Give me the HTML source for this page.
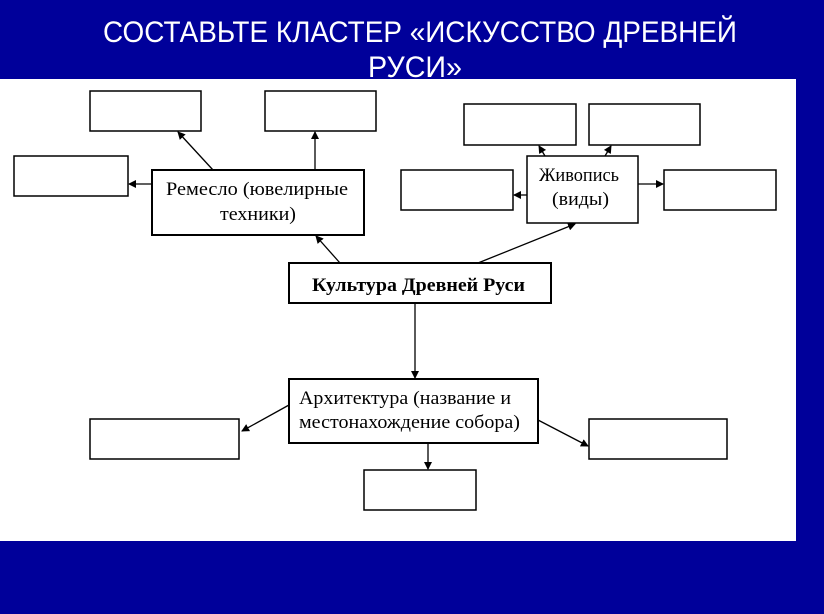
<!DOCTYPE html>
<html><head><meta charset="utf-8"><style>
html,body{margin:0;padding:0;background:#00009a;}
svg{display:block}
</style></head><body>
<svg width="824" height="614" viewBox="0 0 824 614" xmlns="http://www.w3.org/2000/svg">
<defs><marker id="a" markerWidth="8" markerHeight="8" refX="7" refY="4" orient="auto" markerUnits="userSpaceOnUse"><path d="M0,0 L8,4 L0,8 z" fill="#000"/></marker></defs>
<rect width="824" height="614" fill="#00009a"/>
<g font-family="Liberation Sans, sans-serif" font-size="30" fill="#fff">
<text x="103" y="42" textLength="634" lengthAdjust="spacingAndGlyphs">СОСТАВЬТЕ КЛАСТЕР «ИСКУССТВО ДРЕВНЕЙ</text>
<text x="368" y="77" textLength="94" lengthAdjust="spacingAndGlyphs">РУСИ»</text>
</g>
<rect x="0" y="79" width="796" height="462" fill="#fff"/>
<g fill="#fff" stroke="#000" stroke-width="1.5">
<rect x="90" y="91" width="111" height="40"/>
<rect x="265" y="91" width="111" height="40"/>
<rect x="14" y="156" width="114" height="40"/>
<rect x="152" y="170" width="212" height="65" stroke-width="2"/>
<rect x="464" y="104" width="112" height="41"/>
<rect x="589" y="104" width="111" height="41"/>
<rect x="401" y="170" width="112" height="40"/>
<rect x="527" y="156" width="111" height="67"/>
<rect x="664" y="170" width="112" height="40"/>
<rect x="289" y="263" width="262" height="40" stroke-width="2"/>
<rect x="289" y="379" width="249" height="64" stroke-width="2"/>
<rect x="90" y="419" width="149" height="40"/>
<rect x="589" y="419" width="138" height="40"/>
<rect x="364" y="470" width="112" height="40"/>
</g>
<g stroke="#000" stroke-width="1.3" marker-end="url(#a)">
<line x1="213" y1="170" x2="178" y2="132"/>
<line x1="315" y1="170" x2="315" y2="132"/>
<line x1="152" y1="184" x2="129" y2="184"/>
<line x1="340" y1="263" x2="316" y2="236"/>
<line x1="478" y1="263" x2="575" y2="224"/>
<line x1="545" y1="156" x2="539" y2="146"/>
<line x1="605" y1="156" x2="611" y2="146"/>
<line x1="527" y1="195" x2="514" y2="195"/>
<line x1="638" y1="184" x2="663" y2="184"/>
<line x1="415" y1="303" x2="415" y2="378"/>
<line x1="289" y1="405" x2="242" y2="431"/>
<line x1="538" y1="420" x2="588" y2="446"/>
<line x1="428" y1="443" x2="428" y2="469"/>
</g>
<g font-family="Liberation Serif, serif" font-size="19" fill="#000">
<text x="166" y="195" textLength="182" lengthAdjust="spacingAndGlyphs">Ремесло (ювелирные</text>
<text x="220" y="220" textLength="76" lengthAdjust="spacingAndGlyphs">техники)</text>
<text x="539" y="181" textLength="80" lengthAdjust="spacingAndGlyphs">Живопись</text>
<text x="552" y="205" textLength="57" lengthAdjust="spacingAndGlyphs">(виды)</text>
<text x="312" y="291" font-weight="bold" textLength="213" lengthAdjust="spacingAndGlyphs">Культура Древней Руси</text>
<text x="299" y="404" textLength="212" lengthAdjust="spacingAndGlyphs">Архитектура (название и</text>
<text x="299" y="428" textLength="221" lengthAdjust="spacingAndGlyphs">местонахождение собора)</text>
</g>
</svg>
</body></html>
